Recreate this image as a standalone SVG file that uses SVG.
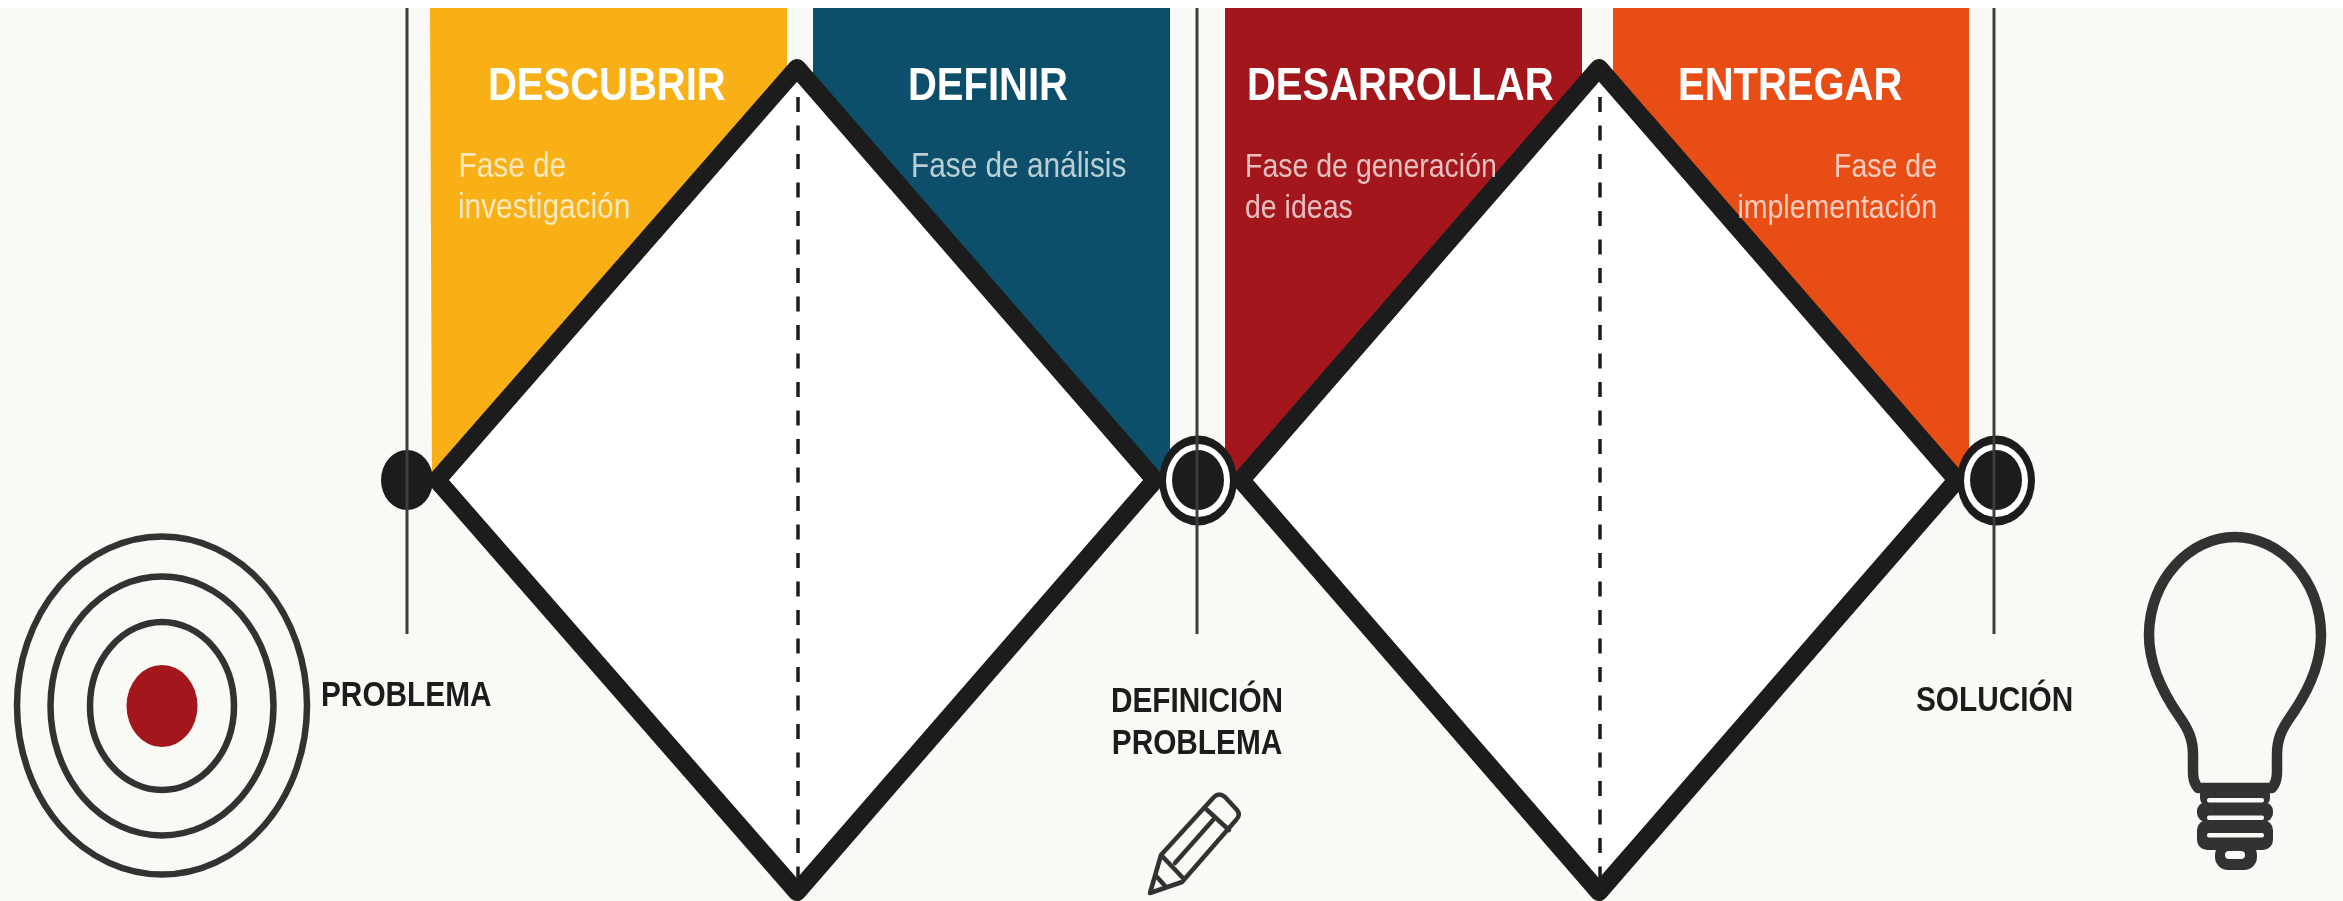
<svg xmlns="http://www.w3.org/2000/svg" width="2343" height="901" viewBox="0 0 2343 901">
<style>
text{font-family:"Liberation Sans",Arial,sans-serif}
.h{font-size:40px;font-weight:700;fill:#fff}
.s{font-size:29.8px;fill:#fff;fill-opacity:.72}
.t{font-size:28.5px;fill:#fff;fill-opacity:.72}
.l{font-size:29.8px;font-weight:700;fill:#1d1d1b}
.d{fill:#fff;stroke:#1d1d1b;stroke-width:18;stroke-linejoin:round}
.v{stroke:#3c3c3a;stroke-width:3}
.da{stroke:#1d1d1b;stroke-width:3.5;stroke-dasharray:15 13.5}
.k{fill:#1d1d1b}
.w{fill:#f9faf5}
.i{fill:none;stroke:#333;stroke-linecap:round;stroke-linejoin:round}
</style>
<defs><filter id="soft" filterUnits="userSpaceOnUse" x="0" y="0" width="2343" height="901"><feGaussianBlur stdDeviation="0.7"/></filter></defs>
<rect width="2343" height="901" fill="#f9faf5"/>
<rect width="2343" height="8" fill="#fff"/>
<g filter="url(#soft)">
<g id="fase-descubrir">
<polygon points="430,8 787,8 787,100 432,480" fill="#f9b016"/>
</g>
<g id="fase-definir">
<polygon points="813,8 1170,8 1170,450 1158,475 813,100" fill="#09506a"/>
</g>
<g id="fase-desarrollar">
<polygon points="1225,8 1582,8 1582,100 1238,478 1225,450" fill="#a2191b"/>
</g>
<g id="fase-entregar">
<polygon points="1613,8 1969,8 1969,470 1955,475 1613,100" fill="#e94e16"/>
</g>
<g id="diamante-1">
<polygon class="d" points="797,68 1155,480 797,892 437,480"/>
<line class="da" x1="798" y1="97" x2="798" y2="901"/>
</g>
<g id="diamante-2">
<polygon class="d" points="1599,68 1957,480 1599,892 1241,480"/>
<line class="da" x1="1600" y1="97" x2="1600" y2="901"/>
</g>
<g id="nodo-problema">
<ellipse class="k" cx="407" cy="480" rx="26" ry="30"/>
</g>
<g id="nodo-definicion">
<ellipse class="k" cx="1198" cy="480.500" rx="39" ry="45"/>
<ellipse fill="#fff" cx="1198" cy="480.500" rx="32" ry="36.500"/>
<ellipse class="k" cx="1198" cy="480" rx="26" ry="30"/>
</g>
<g id="nodo-solucion">
<ellipse class="k" cx="1996" cy="480.500" rx="39" ry="45"/>
<ellipse fill="#fff" cx="1996" cy="480.500" rx="32" ry="36.500"/>
<ellipse class="k" cx="1996" cy="480" rx="26" ry="30"/>
</g>
<g id="connectors">
<line class="v" x1="407" y1="8" x2="407" y2="634"/>
<line class="v" x1="1197" y1="8" x2="1197" y2="634"/>
<line class="v" x1="1994" y1="8" x2="1994" y2="634"/>
</g>
<g id="textos-fases">
<text class="h" transform="translate(488,100) scale(1,1.16)">DESCUBRIR</text>
<text class="s" transform="translate(458.500,177) scale(1,1.16)">Fase de</text>
<text class="s" transform="translate(458,218) scale(1,1.16)">investigación</text>
<text class="h" transform="translate(908,100) scale(1,1.16)">DEFINIR</text>
<text class="s" transform="translate(911,177) scale(1,1.16)">Fase de análisis</text>
<text class="h" transform="translate(1247,100) scale(1,1.16)">DESARROLLAR</text>
<text class="t" transform="translate(1245,177) scale(1,1.16)">Fase de generación</text>
<text class="t" transform="translate(1245,218) scale(1,1.16)">de ideas</text>
<text class="h" transform="translate(1678,100) scale(1,1.16)">ENTREGAR</text>
<text class="t" text-anchor="end" transform="translate(1937,177) scale(1,1.16)">Fase de</text>
<text class="t" text-anchor="end" transform="translate(1937,218) scale(1,1.16)">implementación</text>
</g>
<g id="etiqueta-problema">
<text class="l" transform="translate(321,706) scale(1,1.16)">PROBLEMA</text>
</g>
<g id="etiqueta-definicion">
<text class="l" text-anchor="middle" transform="translate(1197,712) scale(1,1.16)">DEFINICIÓN</text>
<text class="l" text-anchor="middle" transform="translate(1197,754) scale(1,1.16)">PROBLEMA</text>
</g>
<g id="etiqueta-solucion">
<text class="l" transform="translate(1916,711) scale(1,1.16)">SOLUCIÓN</text>
</g>
<g id="icono-diana" fill="none" stroke="#333">
<ellipse cx="162" cy="705.500" rx="145" ry="169" stroke-width="6.500"/>
<ellipse cx="162" cy="706" rx="111.500" ry="129.500" stroke-width="6.500"/>
<ellipse cx="162" cy="706" rx="72" ry="84" stroke-width="6.500"/>
<ellipse cx="162" cy="706" rx="35.500" ry="41" fill="#a2191b" stroke="none"/>
</g>
<g id="icono-lapiz">
<path class="i" stroke-width="4.500" d="M1150 893 L1161 855 L1214 797 Q1219 792 1225 797 L1237 810 Q1241 815 1236 820 L1182 882 Z M1205 808 L1229 830 M1163 857 L1182 877 M1175 863 L1213 820 M1157 877 L1166 887"/>
</g>
<g id="icono-bombilla">
<path class="i" stroke-width="10.500" d="M2235 537 C2280 537 2321 580 2321 635 C2321 665 2307 693 2291 716 C2281 730 2277 740 2277 755 L2277 772 Q2277 782 2272 788 L2198 788 Q2193 782 2193 772 L2193 755 C2193 740 2189 730 2179 716 C2163 693 2149 665 2149 635 C2149 580 2190 537 2235 537 Z"/>
<rect x="2200" y="786" width="70" height="20" rx="8" fill="#333"/>
<rect x="2197" y="802" width="76" height="20" rx="9" fill="#333"/>
<rect x="2197" y="820" width="76" height="30" rx="10" fill="#333"/>
<rect x="2215" y="842" width="42" height="28" rx="13" fill="#333"/>
<rect class="w" x="2207" y="798" width="57" height="4.500" rx="2"/>
<rect class="w" x="2207" y="815.500" width="57" height="4.500" rx="2"/>
<rect class="w" x="2207" y="833" width="57" height="4.500" rx="2"/>
<rect class="w" x="2225" y="851" width="20" height="8" rx="4"/>
</g>
</g>
</svg>
